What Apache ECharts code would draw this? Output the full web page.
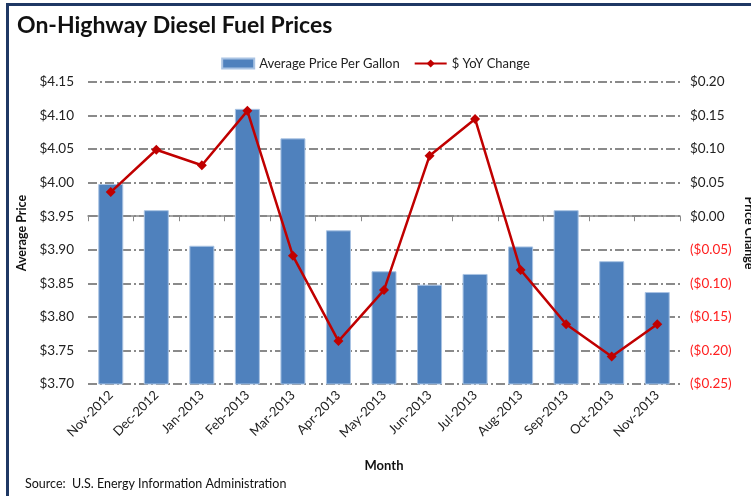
<!DOCTYPE html>
<html>
<head>
<meta charset="utf-8">
<script src="https://cdn.jsdelivr.net/npm/echarts@6/dist/echarts.min.js"></script>
<style>
  html, body { margin: 0; padding: 0; background: #fff; }
  #chart { width: 751px; height: 496px; }
</style>
</head>
<body>
<div id="chart"></div>
<script>
// 月份
var months = ['Nov-2012', 'Dec-2012', 'Jan-2013', 'Feb-2013', 'Mar-2013', 'Apr-2013', 'May-2013',
  'Jun-2013', 'Jul-2013', 'Aug-2013', 'Sep-2013', 'Oct-2013', 'Nov-2013'];
// 每加仑平均价格
var avgPrice = [3.998, 3.959, 3.906, 4.110, 4.066, 3.929, 3.868, 3.848, 3.864, 3.905, 3.959, 3.883, 3.837];
// 同比变化
var yoyChange = [0.036, 0.099, 0.076, 0.157, -0.059, -0.186, -0.110, 0.090, 0.145, -0.080, -0.161, -0.209, -0.161];

var font = 'Lato';
var chart = echarts.init(document.getElementById('chart'));

chart.setOption({
  backgroundColor: '#fff',
  animation: false,
  textStyle: { fontFamily: font },
  title: {
    text: 'On-Highway Diesel Fuel Prices',
    left: 12,
    top: 9,
    textStyle: { fontSize: 23, fontWeight: 'bold', color: '#111', fontFamily: font }
  },
  legend: {
    top: 52,
    left: 'center',
    itemGap: 14,
    itemWidth: 32,
    itemHeight: 10,
    textStyle: { fontSize: 13, color: '#222', fontFamily: font },
    data: [
      { name: 'Average Price Per Gallon', icon: 'rect' },
      { name: '$ YoY Change' }
    ]
  },
  grid: { left: 88, right: 71, top: 82, bottom: 112, outerBoundsMode: 'none', containLabel: false },
  xAxis: {
    type: 'category',
    data: months,
    name: 'Month',
    nameLocation: 'middle',
    nameGap: 75,
    nameTextStyle: { fontSize: 13, fontWeight: 'bold', color: '#111' },
    axisLine: { lineStyle: { color: '#888', width: 1.5 } },
    axisTick: { show: true, length: 5, lineStyle: { color: '#888' } },
    axisLabel: { rotate: 45, fontSize: 13, color: '#222', margin: 9 }
  },
  yAxis: [
    {
      type: 'value',
      min: 3.70,
      max: 4.15,
      interval: 0.05,
      name: 'Average Price',
      nameLocation: 'middle',
      nameGap: 58,
      nameRotate: 90,
      nameTextStyle: { fontSize: 12.5, fontWeight: 'bold', color: '#111' },
      axisLine: { show: false },
      axisTick: { show: false },
      axisLabel: {
        fontSize: 13.5, color: '#222', margin: 14,
        formatter: function (v) { return '$' + v.toFixed(2); }
      },
      splitLine: {
        lineStyle: { color: '#8a8a8a', width: 2, type: [9, 3, 2, 3] }
      }
    },
    {
      type: 'value',
      min: -0.25,
      max: 0.20,
      interval: 0.05,
      position: 'right',
      name: 'Price Change',
      nameLocation: 'middle',
      nameGap: 63,
      nameRotate: -90,
      nameTextStyle: { fontSize: 12.5, fontWeight: 'bold', color: '#111' },
      axisLine: { show: false },
      axisTick: { show: false },
      splitLine: { show: false },
      axisLabel: {
        fontSize: 13.5, margin: 10,
        formatter: function (v) {
          var a = Math.abs(v).toFixed(2);
          return v < -0.0001 ? '{neg|($' + a + ')}' : '{pos|$' + a + '}';
        },
        rich: {
          pos: { color: '#222', fontSize: 13.5, fontFamily: font },
          neg: { color: '#ff2020', fontSize: 13.5, fontFamily: font }
        }
      }
    }
  ],
  series: [
    {
      name: 'Average Price Per Gallon',
      type: 'bar',
      data: avgPrice,
      barWidth: 25,
      itemStyle: { color: '#4f81bd', borderColor: '#a9c3e3', borderWidth: 1 }
    },
    {
      name: '$ YoY Change',
      type: 'line',
      yAxisIndex: 1,
      data: yoyChange,
      symbol: 'diamond',
      symbolSize: 10,
      lineStyle: { color: '#c00000', width: 2.5 },
      itemStyle: { color: '#c00000' }
    }
  ],
  graphic: [
    { type: 'rect', shape: { x: 6, y: 3, width: 745, height: 3 }, style: { fill: '#1f3864' } },
    { type: 'rect', shape: { x: 6, y: 3, width: 3, height: 493 }, style: { fill: '#1f3864' } },
    {
      type: 'text', left: 25, top: 477,
      style: { text: 'Source:  U.S. Energy Information Administration', fontSize: 12.5, fill: '#111', fontFamily: font }
    }
  ]
});
</script>
</body>
</html>
